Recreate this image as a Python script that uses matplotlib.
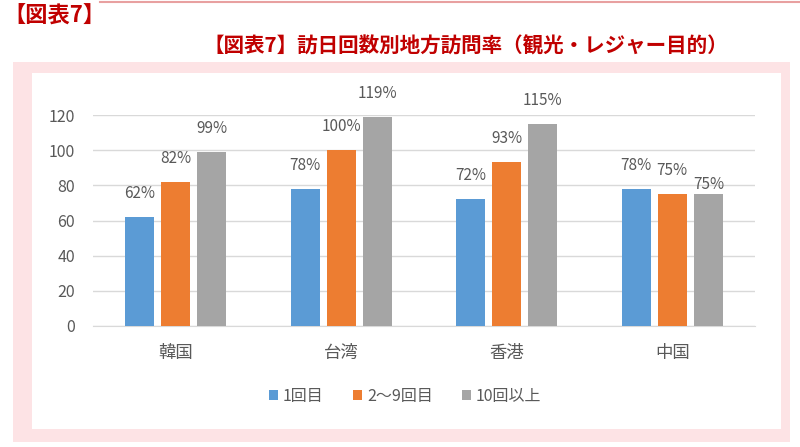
import matplotlib
matplotlib.use("Agg")
import matplotlib.pyplot as plt
from matplotlib.patches import Rectangle
import numpy as np

plt.rcParams['font.family'] = ['Noto Sans CJK JP', 'DejaVu Sans']

categories = ['韓国', '台湾', '香港', '中国']
series_names = ['1回目', '2～9回目', '10回以上']
first = [62, 78, 72, 78]
second = [82, 100, 93, 75]
tenplus = [99, 119, 115, 75]
yticks = [0, 20, 40, 60, 80, 100, 120]

colors = ['#5B9BD5', '#ED7D31', '#A5A5A5']
txt = '#595959'
red = '#C00000'

W, H = 800, 447
fig = plt.figure(figsize=(8, 4.47), dpi=100)

def fx(x):
    return x / W
def fy(y):
    return 1 - y / H

# top red line
fig.add_artist(plt.Line2D([fx(100), 1], [fy(1.5), fy(1.5)], color='#E8A0A0', lw=1.5))
# pink frame
fig.add_artist(Rectangle((fx(13), fy(442)), fx(790) - fx(13), fy(62) - fy(442),
                         facecolor='#FDE3E5', edgecolor='none', zorder=0))
fig.add_artist(Rectangle((fx(32), fy(429)), fx(781) - fx(32), fy(73) - fy(429),
                         facecolor='white', edgecolor='none', zorder=0))

fig.text(fx(3), fy(16), '【図表7】', color=red, fontsize=16, fontweight='bold',
         ha='left', va='center')
fig.text(fx(466), fy(46), '【図表7】訪日回数別地方訪問率（観光・レジャー目的）', color=red,
         fontsize=14.8, fontweight='bold', ha='center', va='center')

ax = fig.add_axes([fx(93), fy(326), fx(755) - fx(93), fy(115) - fy(326)])
ax.set_facecolor('none')
x = np.arange(len(categories))
bw = 0.175
step = 0.218
data = [first, second, tenplus]
for i, (vals, c, name) in enumerate(zip(data, colors, series_names)):
    bars = ax.bar(x + (i - 1) * step, vals, width=bw, color=c, label=name, zorder=3)
    for j, (b, v) in enumerate(zip(bars, vals)):
        off = 17
        if j == 3 and i == 2:
            off = 7
        ax.annotate(f'{v}%', (b.get_x() + b.get_width() / 2, v), xytext=(0, off),
                    textcoords='offset points', ha='center', va='center',
                    fontsize=11, color=txt, annotation_clip=False)

ax.set_xlim(-0.5, len(categories) - 0.5)
ax.set_ylim(0, 120)
ax.set_yticks(yticks)
ax.set_yticklabels([str(t) for t in yticks], fontsize=11.5, color=txt)
ax.set_xticks(x)
ax.set_xticklabels(categories, fontsize=12.5, color=txt)
ax.tick_params(axis='both', length=0)
ax.tick_params(axis='y', pad=13)
ax.tick_params(axis='x', pad=13)
ax.grid(axis='y', color='#D9D9D9', lw=1, zorder=0)
for s in ['top', 'right', 'left']:
    ax.spines[s].set_visible(False)
ax.spines['bottom'].set_color('#D9D9D9')

fig.legend(loc='center', bbox_to_anchor=(fx(405), fy(396)), ncol=3, frameon=False,
           fontsize=11.5, handlelength=0.6, handleheight=0.6, handletextpad=0.3,
           columnspacing=1.8, labelcolor=txt)

fig.savefig('out.png', dpi=100, facecolor='white')
